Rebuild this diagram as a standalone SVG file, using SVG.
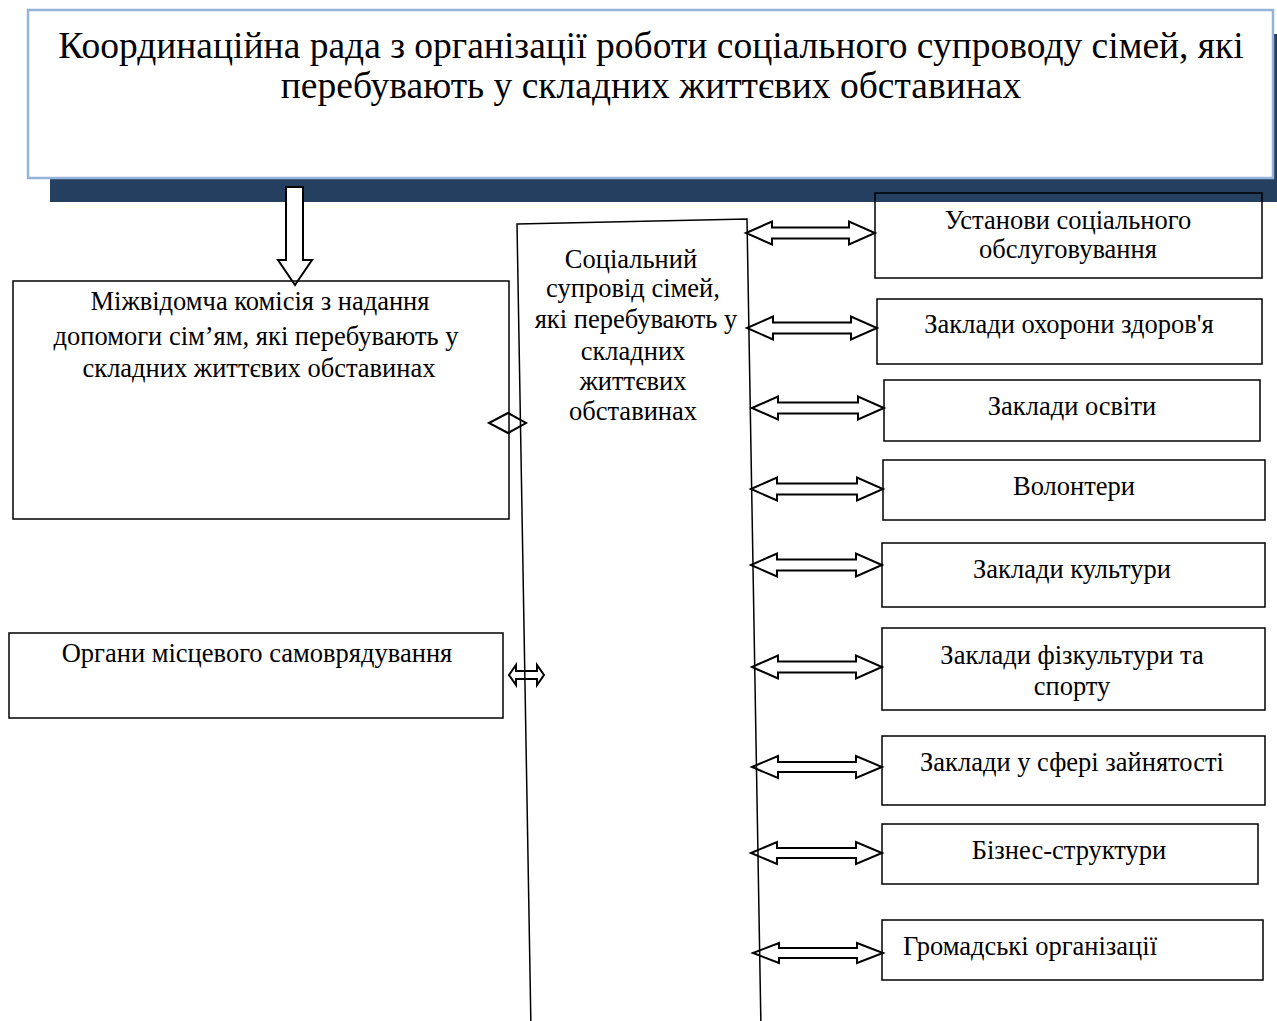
<svg xmlns="http://www.w3.org/2000/svg" width="1277" height="1021" viewBox="0 0 1277 1021">
<style>
text{font-family:"Liberation Serif","Times New Roman",serif;fill:#000}
.t{font-size:26.5px;text-anchor:middle}
.h{font-size:37.5px;text-anchor:middle}
.box{fill:none;stroke:#000;stroke-width:1.5}
.arr{fill:#fff;stroke:#000;stroke-width:2;stroke-linejoin:miter}
</style>
<rect width="1277" height="1021" fill="#fff"/>
<g id="coordination-council">
<rect x="50" y="34" width="1245" height="168" fill="#243F60"/>
<rect x="28" y="10" width="1245" height="168" fill="#fff" stroke="#95B3D7" stroke-width="2.5"/>
<text class="h" x="651" y="58">Координаційна рада з організації роботи соціального супроводу сімей, які</text>
<text class="h" x="651" y="98">перебувають у складних життєвих обставинах</text>
</g>
<g id="connectors">
<path class="arr" d="M286,187 L303,187 L303,260 L312,260 L295,285 L278,260 L286,260 Z"/>
<path class="arr" d="M489,423 L508,413 L526,423 L508,433 Z"/>
<path class="arr" d="M509,675 L516,665 L516,671 L537,671 L537,665 L544,675 L537,685 L537,679 L516,679 L516,685 Z"/>
<path class="arr" d="M746,233 L772,221.5 L772,227.5 L849,227.5 L849,221.5 L875,233 L849,244.5 L849,238.5 L772,238.5 L772,244.5 Z"/>
<path class="arr" d="M747,328 L773,316.5 L773,322.5 L851,322.5 L851,316.5 L877,328 L851,339.5 L851,333.5 L773,333.5 L773,339.5 Z"/>
<path class="arr" d="M752,408 L778,396.5 L778,402.5 L858,402.5 L858,396.5 L884,408 L858,419.5 L858,413.5 L778,413.5 L778,419.5 Z"/>
<path class="arr" d="M751,489 L777,477.5 L777,483.5 L857,483.5 L857,477.5 L883,489 L857,500.5 L857,494.5 L777,494.5 L777,500.5 Z"/>
<path class="arr" d="M751,565 L777,553.5 L777,559.5 L856,559.5 L856,553.5 L882,565 L856,576.5 L856,570.5 L777,570.5 L777,576.5 Z"/>
<path class="arr" d="M752,667 L778,655.5 L778,661.5 L856,661.5 L856,655.5 L882,667 L856,678.5 L856,672.5 L778,672.5 L778,678.5 Z"/>
<path class="arr" d="M752,767 L778,756 L778,762 L856,762 L856,756 L882,767 L856,778 L856,772 L778,772 L778,778 Z"/>
<path class="arr" d="M751,853 L777,842 L777,848 L856,848 L856,842 L882,853 L856,864 L856,858 L777,858 L777,864 Z"/>
<path class="arr" d="M753,953 L779,943 L779,948 L857,948 L857,943 L883,953 L857,963 L857,958 L779,958 L779,963 Z"/>
</g>
<g id="interagency-commission">
<rect class="box" x="13" y="281" width="496" height="238" stroke="#404040"/>
<text class="t" x="260" y="310">Міжвідомча комісія з надання</text>
<text class="t" x="256" y="345">допомоги сім’ям, які перебувають у</text>
<text class="t" x="259" y="377">складних життєвих обставинах</text>
</g>
<g id="local-government">
<rect class="box" x="9" y="633" width="494" height="85"/>
<text class="t" x="257" y="662">Органи місцевого самоврядування</text>
</g>
<g id="social-support">
<polygon class="box" points="517,224 747,219 761,1030 531,1030"/>
<text class="t" x="631" y="268">Соціальний</text>
<text class="t" x="633" y="297">супровід сімей,</text>
<text class="t" x="636" y="328">які перебувають у</text>
<text class="t" x="633" y="360">складних</text>
<text class="t" x="633" y="390">життєвих</text>
<text class="t" x="633" y="420">обставинах</text>
</g>
<g id="social-services">
<rect class="box" x="875" y="193" width="387" height="85"/>
<text class="t" x="1068" y="229">Установи соціального</text>
<text class="t" x="1068" y="258">обслуговування</text>
</g>
<g id="health">
<rect class="box" x="877" y="299" width="385" height="65"/>
<text class="t" x="1069" y="333">Заклади охорони здоров'я</text>
</g>
<g id="education">
<rect class="box" x="884" y="380" width="376" height="61"/>
<text class="t" x="1072" y="415">Заклади освіти</text>
</g>
<g id="volunteers">
<rect class="box" x="883" y="460" width="382" height="60"/>
<text class="t" x="1074" y="495">Волонтери</text>
</g>
<g id="culture">
<rect class="box" x="882" y="543" width="383" height="64"/>
<text class="t" x="1072" y="578">Заклади культури</text>
</g>
<g id="sport">
<rect class="box" x="882" y="628" width="383" height="82"/>
<text class="t" x="1072" y="664">Заклади фізкультури та</text>
<text class="t" x="1072" y="695">спорту</text>
</g>
<g id="employment">
<rect class="box" x="882" y="736" width="383" height="69"/>
<text class="t" x="1072" y="771">Заклади у сфері зайнятості</text>
</g>
<g id="business">
<rect class="box" x="882" y="824" width="376" height="60"/>
<text class="t" x="1069" y="859">Бізнес-структури</text>
</g>
<g id="ngos">
<rect class="box" x="882" y="920" width="381" height="60"/>
<text style="font-size:26.5px" x="903" y="955">Громадські організації</text>
</g>
</svg>
